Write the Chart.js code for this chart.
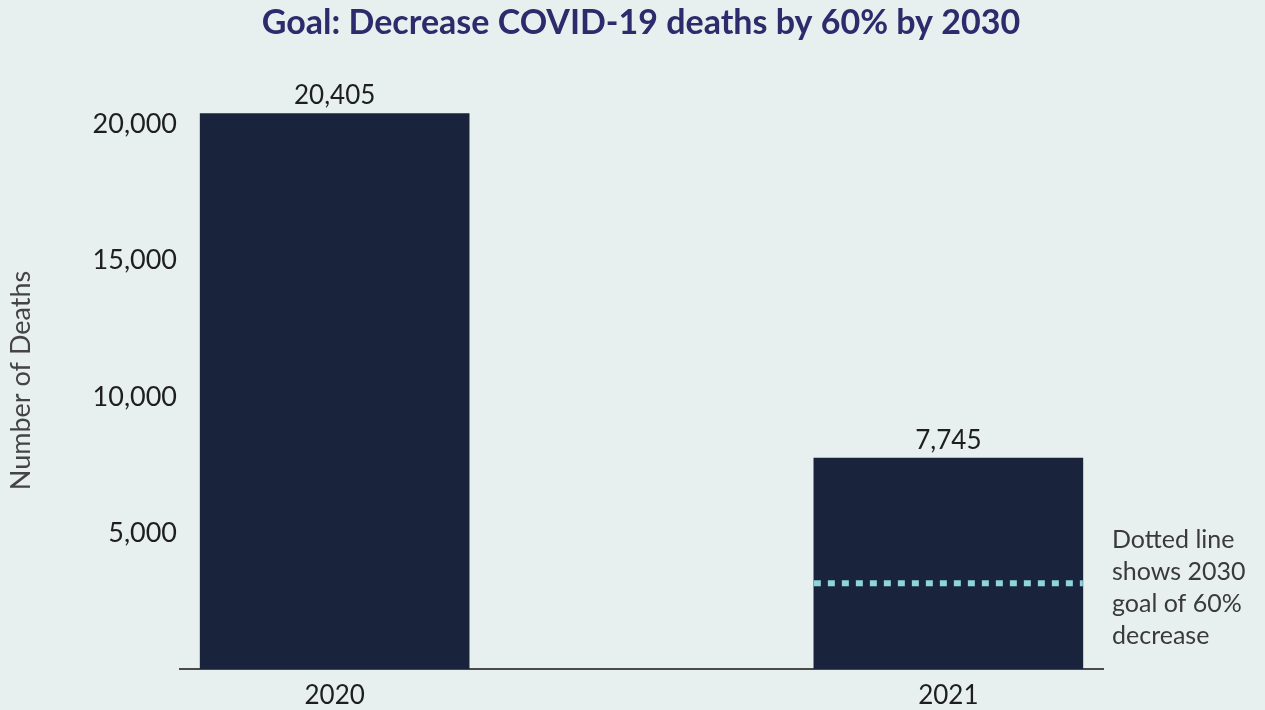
<!DOCTYPE html>
<html>
<head>
<meta charset="utf-8">
<script src="https://cdn.jsdelivr.net/npm/chart.js@4.4.1/dist/chart.umd.min.js"></script>
<style>
  html, body { margin: 0; padding: 0; background: #e8f0ef; }
  #wrap { width: 1265px; height: 710px; }
</style>
</head>
<body>
<div id="wrap"><canvas id="deathsChart"></canvas></div>
<script>
// data
const years = [2020, 2021];
const deaths = [20405, 7745];
const goal2030 = 3150;
const yTicks = [5000, 10000, 15000, 20000];
const noteLines = ['Dotted line', 'shows 2030', 'goal of 60%', 'decrease'];
const titleText = 'Goal: Decrease COVID-19 deaths by 60% by 2030';

const FONT = 'Lato, "Open Sans", sans-serif';

// title, value labels on bars, dotted goal line and side note
const overlayPlugin = {
    id: 'overlay',
    afterDatasetsDraw(chart) {
        const ctx = chart.ctx;
        const bars = chart.getDatasetMeta(0).data;
        const yScale = chart.scales.y;

        ctx.save();
        // title
        ctx.fillStyle = '#2d2b6b';
        ctx.font = 'bold 34px ' + FONT;
        ctx.textAlign = 'center';
        ctx.textBaseline = 'middle';
        ctx.fillText(titleText, 641, 23);

        ctx.fillStyle = '#1e1e1e';
        ctx.font = '26px ' + FONT;
        ctx.textBaseline = 'bottom';
        bars.forEach((bar, i) => {
            ctx.fillText(deaths[i].toLocaleString('en-US'), bar.x, bar.y - 5);
        });

        // goal line across the 2021 bar
        const last = bars[bars.length - 1];
        const gy = yScale.getPixelForValue(goal2030);
        ctx.strokeStyle = '#8fd3dd';
        ctx.lineWidth = 6;
        ctx.setLineDash([7, 7]);
        ctx.beginPath();
        ctx.moveTo(last.x - last.width / 2, gy);
        ctx.lineTo(last.x + last.width / 2, gy);
        ctx.stroke();
        ctx.setLineDash([]);

        // note text
        ctx.fillStyle = '#3a3a3a';
        ctx.font = '25px ' + FONT;
        ctx.textAlign = 'left';
        ctx.textBaseline = 'middle';
        const nx = chart.chartArea.right + 9;
        noteLines.forEach((t, i) => {
            ctx.fillText(t, nx, gy - 43 + i * 32);
        });
        ctx.restore();
    }
};

new Chart(document.getElementById('deathsChart'), {
    type: 'bar',
    data: {
        datasets: [{
            data: years.map((y, i) => ({ x: y, y: deaths[i] })),
            backgroundColor: '#19233b',
            barThickness: 269
        }]
    },
    options: {
        responsive: true,
        maintainAspectRatio: false,
        animation: false,
        layout: { padding: { left: 0, right: 162, top: 92, bottom: 1 } },
        plugins: {
            legend: { display: false },
            tooltip: { enabled: false },
            title: { display: false }
        },
        scales: {
            x: {
                type: 'linear',
                bounds: 'data',
                offset: false,
                min: 2019.748,
                max: 2021.252,
                grid: { display: false, drawTicks: false, offset: false },
                border: { display: true, color: '#4a4a4a', width: 2 },
                afterBuildTicks: scale => { scale.ticks = years.map(v => ({ value: v })); },
                afterFit: scale => { scale.height = 40; },
                ticks: {
                    color: '#1e1e1e',
                    padding: 11,
                    font: { family: FONT, size: 26 },
                    callback: v => String(v)
                }
            },
            y: {
                min: 0,
                max: 21200,
                grid: { display: false, drawTicks: false },
                border: { display: false },
                afterBuildTicks: scale => { scale.ticks = yTicks.map(v => ({ value: v })); },
                afterFit: scale => { scale.width = 180; },
                ticks: {
                    color: '#1e1e1e',
                    padding: 3,
                    font: { family: FONT, size: 27 },
                    callback: v => v.toLocaleString('en-US')
                },
                title: {
                    display: true,
                    text: 'Number of Deaths',
                    color: '#444444',
                    font: { family: FONT, size: 27 },
                    padding: { top: 5, bottom: 0 }
                }
            }
        }
    },
    plugins: [overlayPlugin]
});
</script>
</body>
</html>
